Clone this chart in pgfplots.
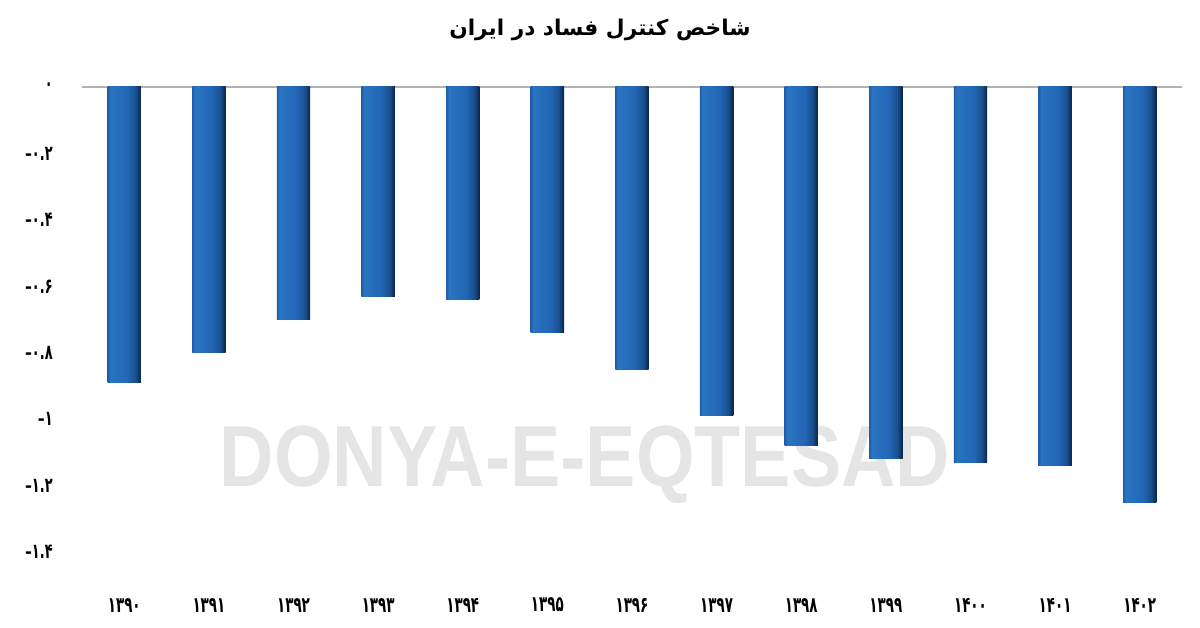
\documentclass[border=0pt]{standalone}
\usepackage{fontspec}
\usepackage{pgfplots}
\pgfplotsset{compat=1.18}
\TeXXeTstate=1
\setmainfont{Liberation Sans}
\newfontfamily\arabicfont[Script=Arabic]{DejaVu Sans}
\newfontfamily\fadig[FakeStretch=0.62]{DejaVu Sans}
\newcommand{\mn}{{\normalfont\bfseries -}}
\definecolor{barA}{HTML}{1F5EA8}
\definecolor{barB}{HTML}{2A74C2}
\definecolor{barC}{HTML}{2266B4}
\definecolor{barD}{HTML}{194F8E}
\definecolor{barE}{HTML}{0A2546}
% path spans 25bp..75bp of the shading
\pgfdeclarehorizontalshading{barshade}{100bp}{color(0bp)=(barA); color(25bp)=(barA);
  color(29bp)=(barB); color(55bp)=(barC); color(67bp)=(barD); color(75bp)=(barE); color(100bp)=(barE)}

\begin{document}
\begin{tikzpicture}
\path[use as bounding box] (-49.2pt,-45.6pt) rectangle (670.8pt,331.2pt);
% watermark
\node[font=\bfseries\fontsize{52}{52}\selectfont, text=black!10, xscale=0.87]
  at (301.8pt,52.2pt) {DONYA-E-EQTESAD};
\begin{axis}[
  scale only axis, width=660pt, height=279pt,
  ybar, bar width=20pt, bar shift=0pt,
  xmin=-0.5, xmax=12.5, ymin=-1.4, ymax=0,
  xtick={0,...,12},
  xticklabels={۱۳۹۰,۱۳۹۱,۱۳۹۲,۱۳۹۳,۱۳۹۴,۱۳۹۵,۱۳۹۶,۱۳۹۷,۱۳۹۸,۱۳۹۹,۱۴۰۰,۱۴۰۱,۱۴۰۲},
  ytick={-1.4,-1.2,-1,-0.8,-0.6,-0.4,-0.2,0},
  yticklabels={\mn۱.۴,\mn۱.۲,\mn۱,\mn۰.۸,\mn۰.۶,\mn۰.۴,\mn۰.۲,۰},
  axis line style={draw=none}, tick style={draw=none},
  xticklabel style={font=\fadig\bfseries\fontsize{13}{13}\selectfont, anchor=center, yshift=-27.6pt, inner sep=0pt},
  yticklabel style={font=\fadig\bfseries\fontsize{12.5}{12.5}\selectfont, anchor=east, xshift=-17.4pt, inner sep=0pt},
  every axis plot/.style={draw=none, shading=barshade},
  clip=false
]
\draw[black!30, line width=1.2pt] (axis cs:-0.5,0) -- (axis cs:12.5,0);
\addplot coordinates {(0,-0.89)};
\addplot coordinates {(1,-0.80)};
\addplot coordinates {(2,-0.70)};
\addplot coordinates {(3,-0.63)};
\addplot coordinates {(4,-0.64)};
\addplot coordinates {(5,-0.74)};
\addplot coordinates {(6,-0.85)};
\addplot coordinates {(7,-0.99)};
\addplot coordinates {(8,-1.08)};
\addplot coordinates {(9,-1.12)};
\addplot coordinates {(10,-1.13)};
\addplot coordinates {(11,-1.14)};
\addplot coordinates {(12,-1.25)};
\end{axis}
\node[font=\arabicfont\bfseries\fontsize{13}{13}\selectfont] at (310.8pt,313.2pt)
  {\beginR شاخص کنترل فساد در ایران\endR};
\end{tikzpicture}
\end{document}
